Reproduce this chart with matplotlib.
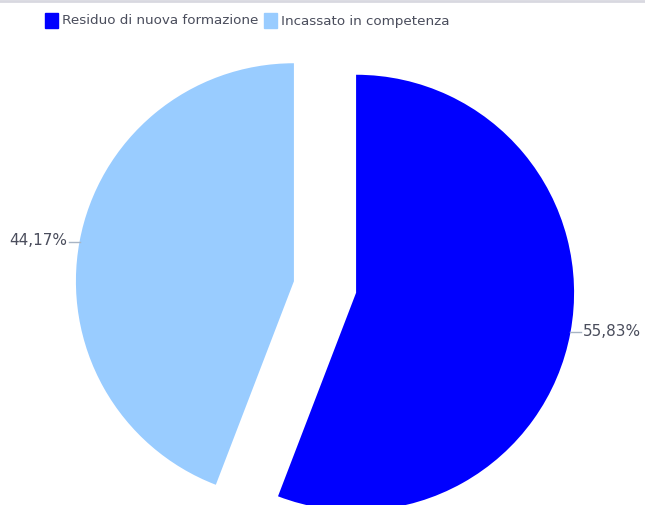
import matplotlib.pyplot as plt
import numpy as np
from matplotlib.patches import Rectangle

labels = ['Residuo di nuova formazione', 'Incassato in competenza']
values = [55.83, 44.17]
colors = ['#0000FF', '#99CCFF']

W, H = 645, 506
cx, cy, r = 325, 288, 218

fig = plt.figure(figsize=(W / 100, H / 100), dpi=100)
ax = fig.add_axes([0, 0, 1, 1])

wedges, _ = ax.pie(values, colors=colors, startangle=90, counterclock=False,
                   explode=[0.145, 0.145], radius=1.0,
                   wedgeprops=dict(linewidth=0))
ax.set_xlim(-cx / r, (W - cx) / r)
ax.set_ylim(-(H - cy) / r, cy / r)
ax.set_aspect('equal')
ax.axis('off')

txt_color = '#4a4d5c'
line_color = '#a8b4c4'
for w, v in zip(wedges, values):
    mid = np.deg2rad((w.theta1 + w.theta2) / 2)
    ccx, ccy = w.center
    ex, ey = ccx + np.cos(mid), ccy + np.sin(mid)
    side = 1 if np.cos(mid) > 0 else -1
    lx = ex + side * 0.05
    ax.plot([ex, lx], [ey, ey], color=line_color, lw=1)
    ax.text(lx + side * 0.005, ey + 0.008, f'{v:.2f}%'.replace('.', ','),
            ha='left' if side > 0 else 'right', va='center',
            fontsize=11, color=txt_color)

# legend along the top
x = 45
for lab, col in zip(labels, colors):
    fig.patches.append(Rectangle((x / W, 1 - 29 / H), 13 / W, 15 / H,
                                 transform=fig.transFigure, color=col))
    t = fig.text((x + 17) / W, 1 - 21 / H, lab, fontsize=9.7, color=txt_color,
                 va='center', ha='left')
    fig.canvas.draw()
    bb = t.get_window_extent()
    x = bb.x1 + 6

fig.add_artist(plt.Line2D([0, 1], [1 - 2 / H, 1 - 2 / H], color='#d8d8e0',
                          lw=2, transform=fig.transFigure))

fig.savefig('out.png', dpi=100)
